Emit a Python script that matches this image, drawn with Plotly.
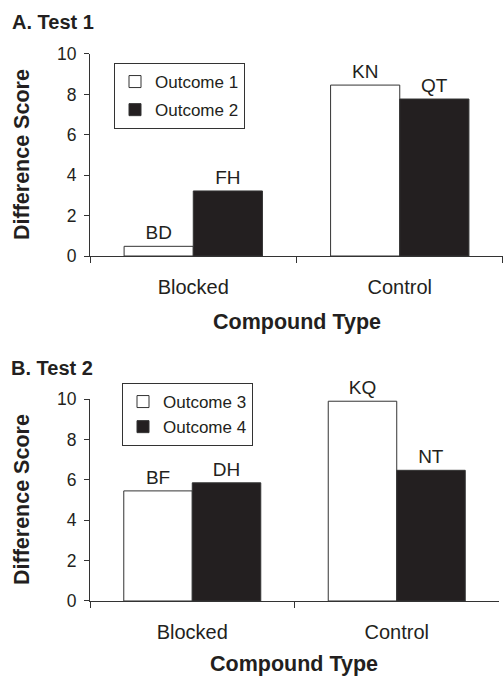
import plotly.graph_objects as go

categories = ["Blocked", "Control"]

# Panel A (Test 1)
a_out1 = [0.48, 8.46]
a_out2 = [3.22, 7.77]
a_lab1 = ["BD", "KN"]
a_lab2 = ["FH", "QT"]

# Panel B (Test 2)
b_out3 = [5.45, 9.89]
b_out4 = [5.85, 6.47]
b_lab3 = ["BF", "KQ"]
b_lab4 = ["DH", "NT"]

yticks = [0, 2, 4, 6, 8, 10]

FONT = "Liberation Sans, Arial, sans-serif"
INK = "#231f20"
WHITE_FILL = "white"
EDGE = "#333333"
W, H = 503, 678

fig = go.Figure()

def add_bar(x, y, labels, name, fill, xa, ya, legend, group):
    fig.add_trace(go.Bar(
        x=x, y=y, name=name, text=labels, textposition="outside",
        textfont=dict(family=FONT, size=19, color=INK),
        marker=dict(color=fill, line=dict(color=EDGE, width=1)),
        xaxis=xa, yaxis=ya, legend=legend, legendgroup=group,
        cliponaxis=False, hoverinfo="skip",
    ))

add_bar(categories, a_out1, a_lab1, "Outcome 1", WHITE_FILL, "x", "y", "legend", "g1")
add_bar(categories, a_out2, a_lab2, "Outcome 2", INK, "x", "y", "legend", "g2")
add_bar(categories, b_out3, b_lab3, "Outcome 3", WHITE_FILL, "x2", "y2", "legend2", "g3")
add_bar(categories, b_out4, b_lab4, "Outcome 4", INK, "x2", "y2", "legend2", "g4")

xcommon = dict(
    showline=True, linecolor=EDGE, linewidth=1.2, ticks="outside",
    tickson="boundaries", ticklen=6, tickcolor=EDGE, showgrid=False,
    tickfont=dict(family=FONT, size=20, color=INK), ticklabelstandoff=13,
    fixedrange=True, automargin=False,
)
ycommon = dict(
    range=[0, 10], tickvals=yticks, showline=True, linecolor=EDGE, linewidth=1.2,
    ticks="outside", ticklen=5, tickcolor=EDGE, showgrid=False, zeroline=False,
    tickfont=dict(family=FONT, size=17.5, color=INK), ticklabelstandoff=4,
    fixedrange=True, automargin=False,
)

legcommon = dict(
    bgcolor="white", bordercolor=EDGE, borderwidth=1,
    font=dict(family=FONT, size=17, color=INK),
    xanchor="left", yanchor="top",
)

fig.update_layout(
    width=W, height=H,
    margin=dict(l=0, r=0, t=0, b=0, pad=0, autoexpand=False),
    paper_bgcolor="white", plot_bgcolor="white",
    barmode="group", bargap=0.33, bargroupgap=0,
    showlegend=True,
    xaxis=dict(domain=[0.179, 1.0], anchor="y", **xcommon),
    yaxis=dict(domain=[0.6224, 0.9204], anchor="x", **ycommon),
    xaxis2=dict(domain=[0.179, 0.992], anchor="y2", **xcommon),
    yaxis2=dict(domain=[0.1136, 0.4115], anchor="x2", **ycommon),
    legend=dict(x=114 / W, y=1 - 63 / H, tracegroupgap=3, **legcommon),
    legend2=dict(x=122 / W, y=1 - 383 / H, tracegroupgap=0, **legcommon),
    font=dict(family=FONT, color=INK),
)

for text, xl, yc in [("A. Test 1", 10, 22), ("B. Test 2", 9, 368)]:
    fig.add_annotation(text="<b>%s</b>" % text, xref="paper", yref="paper",
                       x=xl / W, y=1 - yc / H, xanchor="left", yanchor="middle",
                       showarrow=False, font=dict(family=FONT, size=20, color=INK))

for ycen, xcen in [(322, 297), (664, 294)]:
    fig.add_annotation(text="<b>Compound Type</b>", xref="paper", yref="paper",
                       x=xcen / W, y=1 - ycen / H, xanchor="center", yanchor="middle",
                       showarrow=False, font=dict(family=FONT, size=21.5, color=INK))

for ycen in [155, 500]:
    fig.add_annotation(text="<b>Difference Score</b>", xref="paper", yref="paper",
                       x=22 / W, y=1 - ycen / H, xanchor="center", yanchor="middle",
                       textangle=-90, showarrow=False, font=dict(family=FONT, size=21.5, color=INK))

fig.write_html("out.html", config={"displayModeBar": False},
               post_script="document.body.style.margin='0';document.body.style.overflow='hidden';")
